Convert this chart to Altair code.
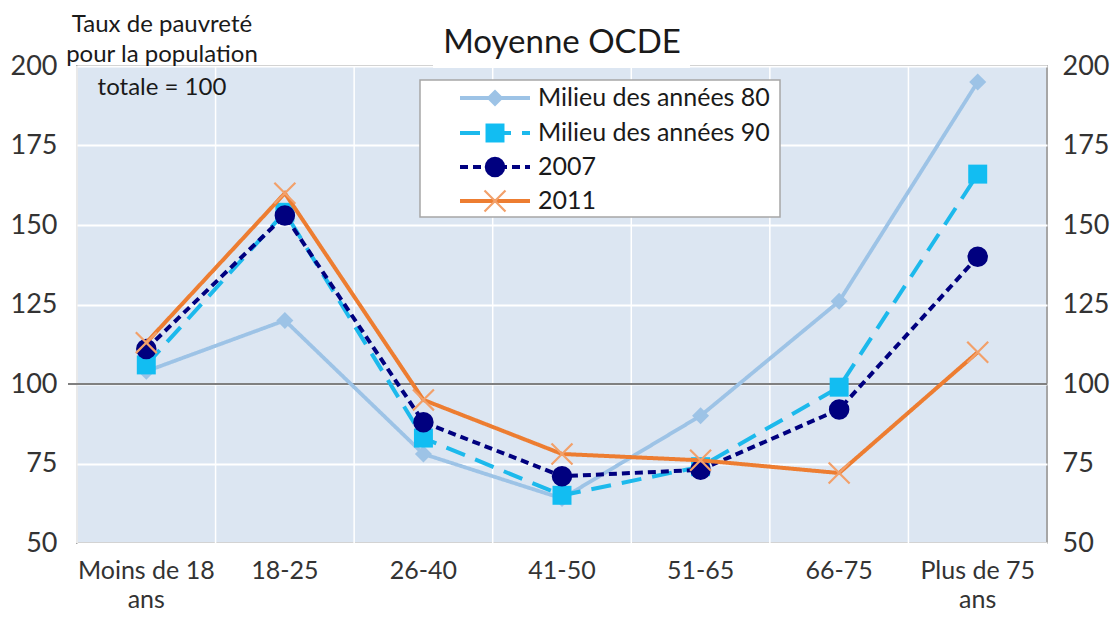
import altair as alt
import pandas as pd

categories = ["Moins de 18 ans", "18-25", "26-40", "41-50", "51-65", "66-75", "Plus de 75 ans"]
series_names = ["Milieu des années 80", "Milieu des années 90", "2007", "2011"]
m80 = [104, 120, 78, 64, 90, 126, 195]
m90 = [106, 154, 83, 65, 74, 99, 166]
y2007 = [111, 153, 88, 71, 73, 92, 140]
y2011 = [113, 160, 95, 78, 76, 72, 110]
y_ticks = [50, 75, 100, 125, 150, 175, 200]
ref_value = [100]
title_text = "Moyenne OCDE"
ytitle_lines = ["Taux de pauvreté", "pour la population", "totale = 100"]

FONT = "Lato"
W, H = 970, 477
yscale = alt.Scale(domain=[50, 200], nice=False, zero=False)
xscale = alt.Scale(type="band", domain=categories, paddingInner=0, paddingOuter=0)
x_axis = alt.Axis(title=None, grid=False, ticks=False, domain=False, bandPosition=0.5,
                  labelFont=FONT, labelFontSize=25, labelColor="#333333", labelPadding=15,
                  labelLineHeight=29, labelAngle=0, labelAlign="center",
                  labelExpr="indexof(datum.value, ' ans') > 0 ? [replace(datum.value, ' ans', ''), 'ans'] : datum.value")

styles = [
    dict(color="#9dc3e6", dash=[1, 0], width=3.8, shape="diamond", size=290, filled=True, mcolor="#9dc3e6"),
    dict(color="#1cb9ec", dash=[20, 11], width=4, shape="square", size=360, filled=True, mcolor="#12bdf2"),
    dict(color="#00007f", dash=[8, 5], width=4, shape="circle", size=420, filled=True, mcolor="#00007f"),
    dict(color="#ed7d31", dash=[1, 0], width=4, shape="M-1,-1L1,1M-1,1L1,-1", size=440, filled=False, mcolor="#f2a06a"),
]
values = [m80, m90, y2007, y2011]

# vertical grid rules at band boundaries (carry the x axis)
grid_df = pd.DataFrame({"cat": categories})
vgrid = alt.Chart(grid_df).mark_rule(color="white", strokeWidth=1.5).encode(
    x=alt.X("cat:N", scale=xscale, bandPosition=0, axis=x_axis, sort=categories),
)

ref_df = pd.DataFrame({"v": ref_value})
left_axis = alt.Axis(title=None, values=y_ticks, grid=True, gridColor="white", gridWidth=2,
                     ticks=False, domain=False, labelFont=FONT, labelFontSize=27,
                     labelColor="#333333", labelPadding=20)
right_axis = alt.Axis(title=None, values=y_ticks, grid=False, orient="right",
                      ticks=False, domain=False, labelFont=FONT, labelFontSize=27,
                      labelColor="#333333", labelPadding=15)

hgrid = alt.Chart(ref_df).mark_rule(opacity=0).encode(
    y=alt.Y("v:Q", scale=yscale, axis=left_axis))
right = alt.Chart(ref_df).mark_rule(opacity=0).encode(
    y=alt.Y("v:Q", scale=yscale, axis=right_axis))
refline = alt.Chart(ref_df).mark_rule(color="#808080", strokeWidth=2).encode(
    y=alt.Y("v:Q", scale=yscale, axis=None),
    x=alt.value(-9), x2=alt.value(W))

layers = [vgrid, hgrid, right, refline]

for name, vals, st in zip(series_names, values, styles):
    df = pd.DataFrame({"cat": categories, "val": vals, "series": name})
    base = alt.Chart(df).encode(
        x=alt.X("cat:N", scale=xscale, bandPosition=0.5, axis=x_axis, sort=categories),
        y=alt.Y("val:Q", scale=yscale, axis=None),
    )
    line = base.mark_line(color=st["color"], strokeWidth=st["width"], strokeDash=st["dash"])
    if st["filled"]:
        pts = base.mark_point(shape=st["shape"], size=st["size"], filled=True, color=st["mcolor"], opacity=1)
    else:
        pts = base.mark_point(shape=st["shape"], size=st["size"], filled=False, color=st["mcolor"],
                              strokeWidth=2.2, opacity=1)
    layers += [line, pts]

# title box and title
one = pd.DataFrame({"t": [title_text]})
title_box = alt.Chart(one).mark_rect(color="white").encode(
    x=alt.value(356), x2=alt.value(613), y=alt.value(-42), y2=alt.value(2))
title = alt.Chart(one).mark_text(font=FONT, fontSize=33, color="#1a1a1a", baseline="alphabetic",
                                 align="center").encode(
    text="t:N", x=alt.value(485), y=alt.value(-13))
layers += [title_box, title]

# y title lines
for txt, yy in zip(ytitle_lines, [-34, -4, 29]):
    layers.append(alt.Chart(pd.DataFrame({"t": [txt]})).mark_text(
        font=FONT, fontSize=24, color="#1a1a1a", align="center", baseline="alphabetic").encode(
        text="t:N", x=alt.value(85), y=alt.value(yy)))

# legend box
leg_box = alt.Chart(one).mark_rect(fill="white", stroke="#a6a6a6", strokeWidth=1.5).encode(
    x=alt.value(343), x2=alt.value(703), y=alt.value(14), y2=alt.value(151))
layers.append(leg_box)
for name, st, yy in zip(series_names, styles, [32, 67, 101, 135]):
    d = pd.DataFrame({"t": [name]})
    layers.append(alt.Chart(d).mark_rule(color=st["color"], strokeWidth=st["width"],
                                         strokeDash=st["dash"]).encode(
        x=alt.value(383), x2=alt.value(453), y=alt.value(yy)))
    if st["filled"]:
        mk = alt.Chart(d).mark_point(shape=st["shape"], size=st["size"], filled=True,
                                     color=st["mcolor"], opacity=1)
    else:
        mk = alt.Chart(d).mark_point(shape=st["shape"], size=st["size"], filled=False,
                                     color=st["mcolor"], strokeWidth=2.2, opacity=1)
    layers.append(mk.encode(x=alt.value(418), y=alt.value(yy)))
    layers.append(alt.Chart(d).mark_text(font=FONT, fontSize=25, color="#1a1a1a", align="left",
                                         baseline="middle").encode(
        text="t:N", x=alt.value(461), y=alt.value(yy)))

chart = alt.layer(*layers).resolve_axis(y="independent").properties(
    width=W, height=H,
    padding={"left": 69, "top": 58, "right": 63, "bottom": 72},
    autosize=alt.AutoSizeParams(type="none"),
).configure(
    background="white",
    view=alt.ViewConfig(fill="#dce6f2", stroke="#a6a6a6", strokeWidth=2),
)

chart.save("out.html", embed_options={"renderer": "svg", "actions": False})
